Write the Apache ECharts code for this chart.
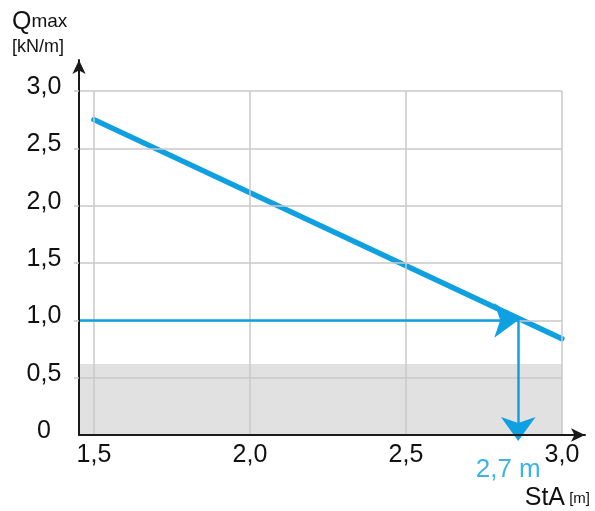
<!DOCTYPE html>
<html>
<head>
<meta charset="utf-8">
<script src="https://cdn.jsdelivr.net/npm/echarts@6/dist/echarts.min.js"></script>
<style>
  html, body { margin: 0; padding: 0; background: #fff; }
  #chart { width: 595px; height: 511px; }
</style>
</head>
<body>
<div id="chart"></div>
<script>
// axis ticks
const xTicks = [1.5, 2.0, 2.5, 3.0]
const yTicks = [0, 0.5, 1.0, 1.5, 2.0, 2.5, 3.0]
// axis extents (axis lines run past the last tick to the arrow heads)
const xRange = [1.452, 3.074]
const yRange = [0, 3.27]
// Qmax over StA
const loadLine = [[1.5, 2.75], [3.0, 0.84]]
// reading example
const qRead = 1.0
const staRead = 2.86
const staLabel = '2,7 m'
// shaded band
const bandTop = 0.62

const blue = '#0fa0e1'
const font = 'Liberation Sans, Arial, Helvetica, sans-serif'
const fmt = v => (v === 0 ? '0' : v.toFixed(1).replace('.', ','))

const chart = echarts.init(document.getElementById('chart'))

// grid lines, drawn only up to the last tick
const gridLines = []
xTicks.forEach(x => {
  gridLines.push([{ coord: [x, 0] }, { coord: [x, yTicks[yTicks.length - 1]] }])
})
yTicks.filter(y => y > 0).forEach(y => {
  gridLines.push([{ coord: [xRange[0], y] }, { coord: [xTicks[xTicks.length - 1], y] }])
})

const option = {
  animation: false,
  textStyle: { fontFamily: font },
  title: {
    left: 12,
    top: 8,
    padding: 0,
    text: '{q|Q}{m|max}\n{u|[kN/m]}',
    textStyle: {
      rich: {
        q: { fontSize: 25, fontWeight: 'normal', color: '#111', fontFamily: font, lineHeight: 28 },
        m: { fontSize: 19, fontWeight: 'normal', color: '#111', fontFamily: font, lineHeight: 28 },
        u: { fontSize: 18, fontWeight: 'normal', color: '#111', fontFamily: font, lineHeight: 23 },
      },
    },
  },
  grid: { left: 79, right: 10, top: 60, bottom: 75 },
  xAxis: {
    type: 'value',
    min: xRange[0],
    max: xRange[1],
    z: 10,
    name: '{a|StA}{b| [m]}',
    nameLocation: 'end',
    nameGap: 5,
    nameTextStyle: {
      align: 'right',
      verticalAlign: 'top',
      padding: [51, 0, 0, 0],
      rich: {
        a: { fontSize: 25, color: '#111', fontFamily: font },
        b: { fontSize: 15, color: '#111', fontFamily: font },
      },
    },
    axisLine: {
      lineStyle: { color: '#1a1a1a', width: 2 },
      symbol: ['none', 'arrow'],
      symbolSize: [10, 14],
    },
    axisTick: { show: false },
    splitLine: { show: false },
    axisLabel: {
      customValues: xTicks,
      formatter: fmt,
      margin: 8,
      fontSize: 25,
      color: '#111',
    },
  },
  yAxis: {
    type: 'value',
    min: yRange[0],
    max: yRange[1],
    z: 10,
    axisLine: {
      lineStyle: { color: '#1a1a1a', width: 2 },
      symbol: ['none', 'arrow'],
      symbolSize: [10, 14],
    },
    axisTick: {
      show: true,
      customValues: yTicks.slice(1),
      length: 5,
      lineStyle: { color: '#c8c8c8', width: 1.5 },
    },
    splitLine: { show: false },
    axisLabel: {
      customValues: yTicks,
      formatter: fmt,
      align: 'center',
      verticalAlign: 'bottom',
      lineHeight: 8,
      margin: 35,
      fontSize: 25,
      color: '#111',
    },
  },
  series: [
    {
      name: 'band',
      type: 'line',
      data: [],
      silent: true,
      markArea: {
        silent: true,
        itemStyle: { color: '#e1e1e1' },
        data: [[{ coord: [xRange[0], 0] }, { coord: [xTicks[xTicks.length - 1], bandTop] }]],
      },
    },
    {
      name: 'grid',
      type: 'line',
      data: [],
      silent: true,
      markLine: {
        silent: true,
        symbol: 'none',
        label: { show: false },
        lineStyle: { color: '#c8c8c8', width: 1.5, type: 'solid' },
        data: gridLines,
      },
    },
    {
      name: 'Qmax',
      type: 'line',
      data: loadLine,
      symbol: 'none',
      lineStyle: { color: blue, width: 5.5, cap: 'round' },
    },
    {
      name: 'reading',
      type: 'line',
      data: [],
      markLine: {
        silent: true,
        symbol: ['none', 'arrow'],
        symbolSize: [26, 24],
        label: { show: false },
        lineStyle: { color: blue, width: 2.5, type: 'solid' },
        data: [
          [{ coord: [xRange[0], qRead] }, { coord: [staRead, qRead] }],
          [{ coord: [staRead, qRead] }, { coord: [staRead, 0], symbolOffset: [0, -6] }],
        ],
      },
    },
    {
      name: 'readLabel',
      type: 'scatter',
      data: [[staRead, 0]],
      symbolSize: 0,
      silent: true,
      label: {
        show: true,
        position: 'bottom',
        formatter: staLabel,
        offset: [-10, 17],
        fontSize: 26,
        color: blue,
        fontFamily: font,
      },
    },
  ],
}

chart.setOption(option)
window.addEventListener('resize', function () {
  chart.resize()
})
</script>
</body>
</html>
